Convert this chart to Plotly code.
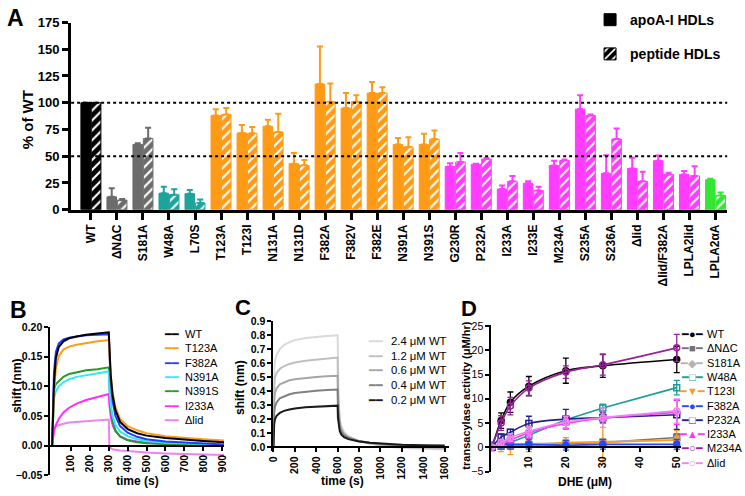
import plotly.graph_objects as go

W, H = 745, 496
def fx(x): return x / W
def fy(y): return 1 - y / H

FONT = "Liberation Sans, Arial, Helvetica, sans-serif"

# ---------------- Panel A data ----------------
mutants = ["WT", "ΔNΔC", "S181A", "W48A", "L70S", "T123A", "T123I", "N131A", "N131D",
           "F382A", "F382V", "F382E", "N391A", "N391S", "G230R", "P232A", "I233A", "I233E",
           "M234A", "S235A", "S236A", "Δlid", "Δlid/F382A", "LPLA2lid", "LPLA2αA"]
apoA_pct = [100, 12, 61, 15.4, 15, 88, 71.7, 78, 43, 117.5, 95, 109, 61, 61, 40.4, 42.5,
            19.3, 24.7, 41.3, 94, 34, 38.5, 45.8, 32.8, 28]
apoA_err = [0, 8, 1, 6, 3.5, 6, 7.5, 6, 10, 35, 14, 10.5, 6, 10, 3, 0.5, 3.3, 2, 4.5, 13,
            17, 10, 4.8, 3.3, 1]
peptide_pct = [100, 9, 66.5, 14, 6.3, 89, 71.4, 72.6, 41.5, 101, 101, 109, 58.7, 66, 44.6,
               47.3, 26.5, 18, 46, 88, 66, 26.5, 33, 31.6, 13.3]
peptide_err = [0, 1, 10, 5, 3.3, 6, 6, 17, 5, 17, 6, 5.5, 9, 8, 8.5, 1, 5, 3.4, 1, 1, 10, 9,
               1.6, 9, 2.7]
reference_levels = [50, 100]
a_ticks = [0, 25, 50, 75, 100, 125, 150, 175]

# ---------------- Panel B data ----------------
b_time = [0, 5, 10, 20, 35, 60, 90, 130, 180, 240, 300,
          303, 310, 320, 335, 360, 400, 450, 500, 600, 700, 800, 910]
b_names = ["WT", "T123A", "F382A", "N391A", "N391S", "I233A", "Δlid"]
b_WT = [0, 0.06, 0.105, 0.148, 0.166, 0.176, 0.181, 0.184, 0.187, 0.189, 0.191,
        0.17, 0.12, 0.085, 0.06, 0.04, 0.028, 0.021, 0.017, 0.013, 0.01, 0.008, 0.006]
b_T123A = [0, 0.05, 0.09, 0.13, 0.151, 0.162, 0.167, 0.17, 0.173, 0.176, 0.178,
           0.16, 0.12, 0.09, 0.065, 0.045, 0.033, 0.026, 0.021, 0.016, 0.013, 0.011, 0.009]
b_F382A = [0, 0.08, 0.125, 0.158, 0.172, 0.179, 0.182, 0.184, 0.186, 0.187, 0.188,
           0.16, 0.11, 0.075, 0.05, 0.033, 0.022, 0.015, 0.011, 0.007, 0.005, 0.003, 0.002]
b_N391A = [0, 0.06, 0.08, 0.092, 0.1, 0.107, 0.112, 0.116, 0.119, 0.122, 0.125,
           0.1, 0.07, 0.05, 0.035, 0.024, 0.016, 0.011, 0.008, 0.005, 0.004, 0.003, 0.002]
b_N391S = [0, 0.07, 0.095, 0.104, 0.109, 0.116, 0.121, 0.124, 0.127, 0.129, 0.132,
           0.1, 0.065, 0.042, 0.026, 0.015, 0.009, 0.006, 0.004, 0.003, 0.002, 0.002, 0.001]
b_I233A = [0, 0.015, 0.025, 0.035, 0.045, 0.056, 0.064, 0.071, 0.077, 0.082, 0.087,
           0.07, 0.05, 0.035, 0.024, 0.016, 0.01, 0.007, 0.005, 0.003, 0.002, 0.001, 0.0]
b_dlid = [0, 0.022, 0.029, 0.033, 0.035, 0.037, 0.039, 0.04, 0.041, 0.042, 0.044,
          0.0, -0.004, -0.006, -0.007, -0.008, -0.009, -0.0105, -0.0115, -0.013, -0.014, -0.015, -0.0155]
b_series = [b_WT, b_T123A, b_F382A, b_N391A, b_N391S, b_I233A, b_dlid]
b_xticks = [100, 200, 300, 400, 500, 600, 700, 800, 900]
b_yticks = [-0.05, 0.0, 0.05, 0.10, 0.15, 0.20]

# ---------------- Panel C data ----------------
c_time = [0, 3, 8, 15, 30, 60, 100, 150, 200, 300, 400, 500, 600,
          603, 610, 620, 635, 660, 700, 750, 800, 900, 1000, 1100, 1200, 1400, 1600]
c_names = ["2.4 μM WT", "1.2 μM WT", "0.6 μM WT", "0.4 μM WT", "0.2 μM WT"]
c_24 = [0, 0.42, 0.56, 0.62, 0.66, 0.70, 0.73, 0.75, 0.765, 0.78, 0.79, 0.795, 0.80,
        0.5, 0.3, 0.2, 0.15, 0.11, 0.08, 0.06, 0.045, 0.025, 0.012, 0.002, -0.005, -0.012, -0.016]
c_12 = [0, 0.3, 0.44, 0.5, 0.53, 0.56, 0.58, 0.595, 0.605, 0.618, 0.627, 0.634, 0.64,
        0.42, 0.26, 0.18, 0.135, 0.1, 0.075, 0.057, 0.044, 0.027, 0.015, 0.007, 0.001, -0.006, -0.01]
c_06 = [0, 0.22, 0.33, 0.39, 0.42, 0.45, 0.465, 0.478, 0.486, 0.496, 0.502, 0.507, 0.51,
        0.34, 0.22, 0.16, 0.12, 0.092, 0.07, 0.055, 0.044, 0.03, 0.02, 0.013, 0.008, 0.002, -0.002]
c_04 = [0, 0.16, 0.25, 0.29, 0.32, 0.35, 0.365, 0.378, 0.387, 0.397, 0.403, 0.408, 0.412,
        0.28, 0.19, 0.14, 0.11, 0.085, 0.066, 0.053, 0.044, 0.032, 0.024, 0.018, 0.014, 0.009, 0.006]
c_02 = [0, 0.12, 0.17, 0.2, 0.225, 0.245, 0.26, 0.27, 0.277, 0.285, 0.29, 0.294, 0.297,
        0.21, 0.15, 0.115, 0.09, 0.072, 0.058, 0.048, 0.041, 0.032, 0.026, 0.021, 0.018, 0.014, 0.012]
c_series = [c_24, c_12, c_06, c_04, c_02]
c_xticks = [0, 200, 400, 600, 800, 1000, 1200, 1400, 1600]
c_yticks = [0.0, 0.1, 0.2, 0.3, 0.4, 0.5, 0.6, 0.7, 0.8, 0.9]

# ---------------- Panel D data ----------------
dhe_uM = [0, 2.5, 5, 10, 20, 30, 50]
d_names = ["WT", "ΔNΔC", "S181A", "W48A", "T123I", "F382A", "P232A", "I233A", "M234A", "Δlid"]
d_WT = [0, 5.5, 9.3, 12.6, 15.8, 16.8, 18.1]
d_WT_err = [0.3, 1.6, 2.1, 2.0, 2.6, 2.4, 2.7]
d_dNdC = [0, 0.2, 0.3, 0.5, 0.8, 1.0, 2.0]
d_dNdC_err = [0.3, 0.5, 0.5, 0.5, 0.5, 0.5, 0.8]
d_S181A = [0, 0.3, 0.5, 0.7, 1.0, 1.2, 1.5]
d_S181A_err = [0.3, 0.5, 0.5, 0.5, 0.5, 0.6, 0.8]
d_W48A = [0, 0.5, 1.0, 2.5, 5.7, 8.1, 12.3]
d_W48A_err = [0.3, 0.4, 0.5, 0.7, 0.8, 0.8, 1.5]
d_T123I = [0, 0.3, 0.0, 0.3, 1.0, 1.0, 1.5]
d_T123I_err = [0.8, 1.2, 1.5, 1.2, 1.0, 4.0, 2.0]
d_F382A = [0.3, 0.6, 0.6, 0.6, 0.4, 0.6, 0.6]
d_F382A_err = [0.8, 1.0, 1.0, 1.0, 1.0, 1.0, 1.0]
d_P232A = [0, 2.1, 3.1, 4.9, 5.8, 6.1, 6.7]
d_P232A_err = [0.4, 0.6, 0.6, 1.5, 2.0, 1.0, 3.0]
d_I233A = [0, 0.7, 1.5, 3.0, 4.9, 6.0, 7.2]
d_I233A_err = [0.3, 0.5, 0.6, 1.2, 1.0, 1.0, 2.5]
d_M234A = [0, 5.0, 8.5, 12.2, 15.5, 17.0, 20.5]
d_M234A_err = [0.3, 1.5, 1.8, 1.5, 1.3, 2.1, 2.8]
d_dlid = [0, 1.0, 2.0, 3.3, 5.2, 6.1, 7.5]
d_dlid_err = [0.3, 0.6, 0.8, 1.0, 1.2, 2.0, 2.5]
d_series = [d_WT, d_dNdC, d_S181A, d_W48A, d_T123I, d_F382A, d_P232A, d_I233A, d_M234A, d_dlid]
d_errors = [d_WT_err, d_dNdC_err, d_S181A_err, d_W48A_err, d_T123I_err, d_F382A_err,
            d_P232A_err, d_I233A_err, d_M234A_err, d_dlid_err]
d_xticks = [10, 20, 30, 40, 50]
d_yticks = [-5, 0, 5, 10, 15, 20, 25]

# ---------------- Styles ----------------
a_group = ["wt", "gray", "gray", "teal", "teal"] + ["orange"] * 9 + ["magenta"] * 10 + ["green"]
a_colors = {"wt": "#000000", "gray": "#6b6b6b", "teal": "#1ba39c", "orange": "#ff9a14",
            "magenta": "#ff3cff", "green": "#33e633"}
b_colors = ["#000000", "#ff9a1a", "#1f3cff", "#33e6ff", "#1f9e1f", "#ff2bff", "#ee82ee"]
c_colors = ["#d9d9d9", "#bfbfbf", "#a6a6a6", "#808080", "#1a1a1a"]
d_colors = ["#000000", "#737373", "#b3b3b3", "#1a9e96", "#ff9a1a", "#1f48ff", "#1f1f8f",
            "#ff33ff", "#9c1f9c", "#ea88ea"]
d_symbols = ["circle", "square", "diamond", "square-open", "triangle-down", "circle",
             "square-open", "triangle-up", "circle-open", "circle-open"]
d_glyphs = ["●", "■", "◆", "□", "▼", "●", "□", "▲", "○", "○"]
d_shapes = ["spline", "linear", "linear", "linear", "linear", "linear", "spline", "spline", "spline", "spline"]

fig = go.Figure()

# ---------- Panel A bars ----------
for g in ["wt", "gray", "teal", "orange", "magenta", "green"]:
    idx = [i for i, gg in enumerate(a_group) if gg == g]
    c = a_colors[g]
    xs = [mutants[i] for i in idx]
    fig.add_trace(go.Bar(
        x=xs, y=[apoA_pct[i] for i in idx], offsetgroup="apo", name="apoA-I HDLs",
        legendgroup="apo", showlegend=(g == "wt"),
        marker=dict(color=c, line=dict(color=c, width=1)),
        error_y=dict(type="data", symmetric=False, array=[apoA_err[i] for i in idx],
                     arrayminus=[0] * len(idx), color=c, thickness=2, width=3),
        xaxis="x", yaxis="y"))
    fig.add_trace(go.Bar(
        x=xs, y=[peptide_pct[i] for i in idx], offsetgroup="pep", name="peptide HDLs",
        legendgroup="pep", showlegend=(g == "wt"),
        marker=dict(color=c, line=dict(color=c, width=1),
                    pattern=dict(shape="/", fgcolor="white", bgcolor=c, fillmode="replace",
                                 size=7, solidity=0.3)),
        error_y=dict(type="data", symmetric=False, array=[peptide_err[i] for i in idx],
                     arrayminus=[0] * len(idx), color=c, thickness=2, width=3),
        xaxis="x", yaxis="y"))

# ---------- Panel B lines ----------
for k in reversed(range(len(b_names))):
    fig.add_trace(go.Scatter(x=b_time, y=b_series[k], mode="lines", name=b_names[k],
                             line=dict(color=b_colors[k], width=2), showlegend=False,
                             xaxis="x2", yaxis="y2"))

# ---------- Panel C lines ----------
for k in range(len(c_names)):
    fig.add_trace(go.Scatter(x=c_time, y=c_series[k], mode="lines", name=c_names[k],
                             line=dict(color=c_colors[k], width=2), showlegend=False,
                             xaxis="x3", yaxis="y3"))

# ---------- Panel D ----------
for k in range(len(d_names)):
    fig.add_trace(go.Scatter(x=dhe_uM, y=d_series[k], mode="lines+markers", name=d_names[k],
                             line=dict(color=d_colors[k], width=1.6, shape=d_shapes[k]),
                             marker=dict(symbol=d_symbols[k], size=6, color=d_colors[k],
                                         line=dict(color=d_colors[k], width=1.5)),
                             error_y=dict(type="data", array=d_errors[k], color=d_colors[k],
                                          thickness=1.3, width=3),
                             showlegend=False, xaxis="x4", yaxis="y4"))

# reference dotted lines in A
for lvl in reference_levels:
    fig.add_shape(type="line", xref="x domain", yref="y", x0=0, x1=1, y0=lvl, y1=lvl,
                  line=dict(color="black", width=2, dash="dot"), layer="above")

def free_pos(dom, rng):
    return dom[0] + (0 - rng[0]) / (rng[1] - rng[0]) * (dom[1] - dom[0])

yB_dom, yB_rng = [fy(483), fy(330)], [-0.05, 0.2]
yC_dom, yC_rng = [fy(457.6), fy(324)], [-0.025, 0.9]
yD_dom, yD_rng = [fy(479), fy(327.5)], [-5, 25.3]

tick_bold = dict(family=FONT, size=10.5, color="black", weight="bold")
small_axis = dict(showline=True, linewidth=2, linecolor="black", ticks="outside", ticklen=4,
                  tickwidth=2, tickcolor="black", showgrid=False, zeroline=False)

fig.update_layout(
    width=W, height=H, margin=dict(l=0, r=0, t=0, b=0),
    paper_bgcolor="white", plot_bgcolor="white",
    barmode="group", bargap=0.2, bargroupgap=0.08,
    font=dict(family=FONT, color="black"),
    legend=dict(x=fx(591), y=fy(-3), xanchor="left", yanchor="top",
                font=dict(family=FONT, size=14, weight="bold", color="black"),
                tracegroupgap=13, traceorder="grouped", bgcolor="rgba(0,0,0,0)"),
    xaxis=dict(domain=[fx(65), fx(730)], anchor="y", type="category", categoryorder="array",
               categoryarray=mutants, range=[-0.76, 24.45], showline=True, linewidth=3,
               linecolor="black", ticks="outside", ticklen=7, tickwidth=3, tickcolor="black",
               tickangle=-90, tickfont=dict(family=FONT, size=12, weight="bold", color="black"),
               showgrid=False, zeroline=False),
    yaxis=dict(domain=[fy(209), fy(16)], anchor="x", range=[0, 175], tickvals=a_ticks,
               showline=True, linewidth=3, linecolor="black", ticks="outside", ticklen=6,
               tickwidth=3, tickcolor="black",
               tickfont=dict(family=FONT, size=13, weight="bold", color="black"),
               showgrid=False, zeroline=False),
    xaxis2=dict(domain=[fx(44), fx(220)], anchor="free", position=free_pos(yB_dom, yB_rng),
                range=[-9, 910], tickvals=b_xticks, tickangle=-90, tickfont=tick_bold, **small_axis),
    yaxis2=dict(domain=yB_dom, anchor="x2", range=yB_rng, tickvals=b_yticks, tickformat=".2f",
                tickfont=tick_bold, **small_axis),
    xaxis3=dict(domain=[fx(270), fx(448)], anchor="free", position=free_pos(yC_dom, yC_rng),
                range=[0, 1640], tickvals=c_xticks, tickangle=-90, tickfont=tick_bold, **small_axis),
    yaxis3=dict(domain=yC_dom, anchor="x3", range=yC_rng, tickvals=c_yticks, tickformat=".1f",
                tickfont=tick_bold, **small_axis),
    xaxis4=dict(domain=[fx(491), fx(683)], anchor="free", position=free_pos(yD_dom, yD_rng),
                range=[-0.13, 51.1], tickvals=d_xticks, tickangle=-90, tickfont=tick_bold, **small_axis),
    yaxis4=dict(domain=yD_dom, anchor="x4", range=yD_rng, tickvals=d_yticks,
                tickfont=dict(family=FONT, size=10.5, color="black"), **small_axis),
)

ann = []
def add_text(text, x, y, size, bold=True, angle=0, xanchor="center", yanchor="middle", align="center"):
    ann.append(dict(text=text, x=fx(x), y=fy(y), xref="paper", yref="paper", showarrow=False,
                    xanchor=xanchor, yanchor=yanchor, align=align, textangle=angle,
                    font=dict(family=FONT, size=size, color="black",
                              weight="bold" if bold else "normal")))

# panel labels
add_text("A", 9, 11, 23)
add_text("B", 12, 312, 23)
add_text("C", 239, 310, 22)
add_text("D", 468, 311, 22)
# axis titles
add_text("% of WT", 21, 116, 15, angle=-90)
add_text("shift (nm)", 10, 390, 12, angle=-90)
add_text("time (s)", 132, 489, 12)
add_text("shift (nm)", 236, 392, 12, angle=-90)
add_text("time (s)", 340, 489, 12)
add_text("transacylase activity (μM/hr)", 465, 401, 11, angle=-90)
add_text("DHE (μM)", 586, 490, 12)

# legend B
add_text("<br>".join(f"<span style='color:{c}'>━━</span>" for c in b_colors),
         166.5, 329, 11, bold=False, yanchor="top")
add_text("<br>".join(b_names), 178, 329, 11, bold=False, xanchor="left", yanchor="top", align="left")
# legend C
add_text("<br>".join(f"<span style='color:{c}'>━━</span>" for c in c_colors),
         373.5, 336.5, 11.3, bold=False, yanchor="top")
add_text("<br>".join(c_names), 387, 336.5, 11.3, bold=False, xanchor="left", yanchor="top", align="left")
# legend D
add_text("<br>".join(f"<span style='color:{c}'>━{g}━</span>" for c, g in zip(d_colors, d_glyphs)),
         694, 328.5, 11, bold=False, yanchor="top")
add_text("<br>".join(d_names), 708, 328.5, 11, bold=False, xanchor="left", yanchor="top", align="left")

fig.update_layout(annotations=ann)

fig.write_html("out.html", config={"displayModeBar": False},
               post_script="document.body.style.margin='0';document.body.style.padding='0';")
